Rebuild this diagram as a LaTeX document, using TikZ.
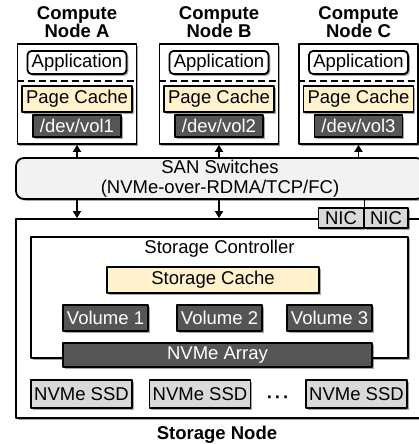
\documentclass[tikz,border=0pt]{standalone}
\usepackage{fontspec}
\setmainfont{Liberation Sans}
\usetikzlibrary{arrows.meta,shadows}
\definecolor{cachefill}{RGB}{255,242,204}
\definecolor{volfill}{RGB}{85,85,85}
\definecolor{ssdfill}{RGB}{217,217,217}
\definecolor{sanfill}{RGB}{242,242,242}
\tikzset{
  shad/.style={drop shadow={shadow xshift=1.8pt,shadow yshift=-1.8pt,opacity=0.35,fill=black}},
  box/.style={draw,line width=1.8pt,fill=white,inner sep=0pt,shad},
  appbox/.style={box,rounded corners=4pt,minimum width=99,minimum height=23},
  cachebox/.style={box,fill=cachefill},
  volbox/.style={box,fill=volfill,text=white},
  ssdbox/.style={box,fill=ssdfill},
  title/.style={font=\fontsize{18.5}{18.5}\selectfont\bfseries,align=center},
  dashln/.style={line width=1.8pt,dash pattern=on 7pt off 4pt},
  link/.style={line width=1.8pt}
}
\begin{document}
\begin{tikzpicture}[x=1pt,y=-1pt,line join=round,>={Triangle[length=7pt,width=8pt]},
  font=\fontsize{18.5}{20}\selectfont]
  \useasboundingbox (0,0) rectangle (419,444);
  \clip (0,0) rectangle (419,444);

  % Compute Node A
  \node[title] (tA) at (77,22) {Compute\\Node A};
  \node[box,minimum width=119,minimum height=100] (cA) at (77,94) {};
  \node[appbox] (appA) at (77,62.5) {Application};
  \draw[dashln] ([yshift=13pt]cA.west) -- ([yshift=13pt]cA.east);
  \node[cachebox,minimum width=110,minimum height=26] (pcA) at (77,99) {Page Cache};
  \node[volbox,minimum width=88,minimum height=22] (dvA) at (77,126) {/dev/vol1};

  % Compute Node B
  \node[title] (tB) at (219,22) {Compute\\Node B};
  \node[box,minimum width=119,minimum height=100] (cB) at (219,94) {};
  \node[appbox] (appB) at (219,62.5) {Application};
  \draw[dashln] ([yshift=13pt]cB.west) -- ([yshift=13pt]cB.east);
  \node[cachebox,minimum width=110,minimum height=26] (pcB) at (219,99) {Page Cache};
  \node[volbox,minimum width=88,minimum height=22] (dvB) at (219,126) {/dev/vol2};

  % Compute Node C
  \node[title] (tC) at (358.5,22) {Compute\\Node C};
  \node[box,minimum width=119,minimum height=100] (cC) at (358.5,94) {};
  \node[appbox] (appC) at (358.5,62.5) {Application};
  \draw[dashln] ([yshift=13pt]cC.west) -- ([yshift=13pt]cC.east);
  \node[cachebox,minimum width=110,minimum height=26] (pcC) at (358.5,99) {Page Cache};
  \node[volbox,minimum width=88,minimum height=22] (dvC) at (358.5,126) {/dev/vol3};

  % SAN
  \node[box,fill=sanfill,rounded corners=8pt,align=center,minimum width=408,minimum height=41] (san) at (220,178.5) {SAN Switches\\(NVMe-over-RDMA/TCP/FC)};

  % Storage Node
  \node[box,minimum width=414,minimum height=199] (stor) at (223,318.5) {};
  \node[title] (tS) at (217,435) {Storage Node};
  \node[box,minimum width=377,minimum height=121] (ctrl) at (219.5,297.5) {};
  \node (tctrl) at (219.5,249) {Storage Controller};
  \node[ssdbox,minimum width=45,minimum height=20] (nic1) at (341,218) {NIC};
  \node[ssdbox,minimum width=44,minimum height=20] (nic2) at (386,218) {NIC};

  % controller contents
  \node[cachebox,minimum width=212,minimum height=26] (scache) at (213,280) {Storage Cache};
  \node[volbox,minimum width=85,minimum height=26] (v1) at (105.5,318) {Volume 1};
  \node[volbox,minimum width=85,minimum height=26] (v2) at (219.5,318) {Volume 2};
  \node[volbox,minimum width=85,minimum height=26] (v3) at (329.5,318) {Volume 3};
  \node[volbox,minimum width=309,minimum height=24] (arr) at (217.5,355) {NVMe Array};

  % SSDs
  \node[ssdbox,minimum width=101,minimum height=28] (ssd1) at (81.5,394) {NVMe SSD};
  \node[ssdbox,minimum width=101,minimum height=28] (ssd2) at (200,394) {NVMe SSD};
  \node (dots) at (278,400) {\bfseries\textperiodcentered\kern2pt\textperiodcentered\kern2pt\textperiodcentered};
  \node[ssdbox,minimum width=101,minimum height=28] (ssd3) at (356.5,394) {NVMe SSD};

  % connections
  \draw[link,->] (cA.south |- san.north) -- (cA.south);
  \draw[link,->] (cB.south |- san.north) -- (cB.south);
  \draw[link,->] (cC.south |- san.north) -- (cC.south);
  \draw[link,->] (cA.south |- san.south) -- (cA.south |- stor.north);
  \draw[link,->] (cB.south |- san.south) -- (cB.south |- stor.north);
  \draw[link] (nic1.north east |- san.south) -- (nic1.north east);
\end{tikzpicture}
\end{document}
